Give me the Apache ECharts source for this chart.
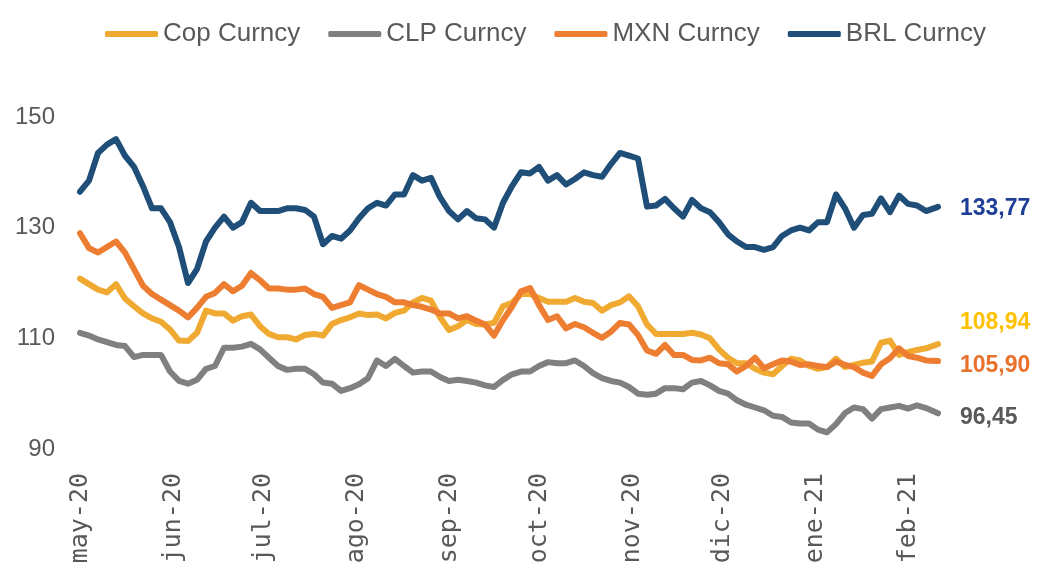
<!DOCTYPE html>
<html>
<head>
<meta charset="utf-8">
<script src="https://cdn.jsdelivr.net/npm/echarts@6/dist/echarts.min.js"></script>
<style>
html,body{margin:0;padding:0;background:#fff;}
#chart{width:1041px;height:581px;}
</style>
</head>
<body>
<div id="chart"></div>
<script>
// Sample dates (every 3 days, last = final observation)
const dates = [
'2020-05-01','2020-05-04','2020-05-07','2020-05-10','2020-05-13','2020-05-16','2020-05-19','2020-05-22','2020-05-25','2020-05-28','2020-05-31',
'2020-06-03','2020-06-06','2020-06-09','2020-06-12','2020-06-15','2020-06-18','2020-06-21','2020-06-24','2020-06-27','2020-06-30',
'2020-07-03','2020-07-06','2020-07-09','2020-07-12','2020-07-15','2020-07-18','2020-07-21','2020-07-24','2020-07-27','2020-07-30',
'2020-08-02','2020-08-05','2020-08-08','2020-08-11','2020-08-14','2020-08-17','2020-08-20','2020-08-23','2020-08-26','2020-08-29',
'2020-09-01','2020-09-04','2020-09-07','2020-09-10','2020-09-13','2020-09-16','2020-09-19','2020-09-22','2020-09-25','2020-09-28',
'2020-10-01','2020-10-04','2020-10-07','2020-10-10','2020-10-13','2020-10-16','2020-10-19','2020-10-22','2020-10-25','2020-10-28','2020-10-31',
'2020-11-03','2020-11-06','2020-11-09','2020-11-12','2020-11-15','2020-11-18','2020-11-21','2020-11-24','2020-11-27','2020-11-30',
'2020-12-03','2020-12-06','2020-12-09','2020-12-12','2020-12-15','2020-12-18','2020-12-21','2020-12-24','2020-12-27','2020-12-30',
'2021-01-02','2021-01-05','2021-01-08','2021-01-11','2021-01-14','2021-01-17','2021-01-20','2021-01-23','2021-01-26','2021-01-29',
'2021-02-01','2021-02-04','2021-02-07','2021-02-11'
];

const copCurncy = [
120.8,119.8,118.8,118.3,119.8,117.2,115.8,114.5,113.6,113,111.6,
109.6,109.5,111,115,114.5,114.5,113.2,114,114.3,112.2,
110.8,110.2,110.2,109.8,110.6,110.8,110.5,112.6,113.3,113.8,
114.5,114.2,114.3,113.6,114.6,115,116.5,117.3,116.8,113.8,
111.5,112.2,113.3,112.6,112.5,112.8,115.8,116.4,118,118,
117.3,116.6,116.6,116.6,117.3,116.6,116.4,115,116,116.5,117.6,
115.8,112.5,110.8,110.8,110.8,110.8,111,110.7,110,108,
106.5,105.5,105.5,104.5,103.8,103.5,105,106.3,106,105,
104.5,104.8,106.3,104.8,105.2,105.6,105.8,109.2,109.6,107,
107.5,107.9,108.2,108.94
];

const clpCurncy = [
111,110.5,109.8,109.3,108.8,108.6,106.6,107,107,107,104,
102.3,101.8,102.5,104.5,105,108.3,108.3,108.5,109,108,
106.5,105,104.3,104.5,104.5,103.5,102,101.8,100.5,101,
101.7,102.8,106,105,106.3,105,103.8,104,104,103,
102.3,102.5,102.3,102,101.5,101.2,102.5,103.5,104,104,
105,105.7,105.5,105.5,106,105,103.7,102.8,102.3,102,101.2,
100,99.8,100,101,101,100.8,102,102.3,101.5,100.5,
100,98.8,98,97.5,97,96,95.8,94.8,94.6,94.6,
93.5,93,94.5,96.5,97.5,97.2,95.5,97.2,97.5,97.8,
97.3,97.9,97.4,96.45
];

const mxnCurncy = [
129,126.3,125.5,126.5,127.5,125.5,122.5,119.5,118,117,116,
115,113.8,115.5,117.5,118.2,119.8,118.5,119.5,121.8,120.5,
119,119,118.8,118.8,119,118,117.5,115.5,116,116.5,
119.6,118.8,118,117.5,116.5,116.5,116,115.7,115.2,114.5,
114.5,113.6,114,113.2,112.5,110.5,113.3,115.7,118.5,119.1,
116,113.3,114,111.8,112.6,112,111,110.1,111.2,112.8,112.5,
110.6,107.8,107.2,108.8,107,107,106.1,106,106.5,105.5,
105.3,104,105,106.5,104.6,105.3,106,105.8,105.2,105.3,
105,104.8,105.8,105.2,104.8,103.8,103.2,105.3,106.4,108.2,
106.8,106.5,106,105.90
];

const brlCurncy = [
136.5,138.5,143.5,145,146,143,141,137.5,133.5,133.5,131,
126.5,120,122.5,127.5,130,132,130,131,134.5,133,
133,133,133.5,133.5,133.2,132,127,128.5,128,129.5,
131.7,133.5,134.5,134,136,136,139.5,138.5,139,135.5,
133,131.5,133,131.7,131.5,130,134.5,137.5,140,139.8,
141,138.5,139.5,137.8,138.8,140,139.5,139.2,141.5,143.5,143,
142.5,133.8,134,135.2,133.5,132,135,133.5,132.8,131,
128.8,127.5,126.5,126.5,126,126.5,128.5,129.5,130,129.5,
131,131,136,133.5,130,132.3,132.5,135.3,132.8,135.8,
134.3,134,133,133.77
];

const seriesNames = ['Cop Curncy', 'CLP Curncy', 'MXN Curncy', 'BRL Curncy'];
const monthStarts = ['2020-05-01','2020-06-01','2020-07-01','2020-08-01','2020-09-01','2020-10-01','2020-11-01','2020-12-01','2021-01-01','2021-02-01'];
const monthLabels = ['may-20','jun-20','jul-20','ago-20','sep-20','oct-20','nov-20','dic-20','ene-21','feb-21'];
const yTicks = [90, 110, 130, 150];
const xRange = ['2020-05-01', '2021-02-11'];

const lineColors = ['#F0AA32', '#808080', '#ED7D31', '#1F4E79'];
const labelColors = ['#FFC000', '#595959', '#E8712B', '#1F3F96'];
const labelOffsets = [[0, -22], [0, 4], [0, 5], [0, 2]];

const toTs = s => new Date(s + 'T00:00:00').getTime();
const monthTs = monthStarts.map(toTs);
const dateTs = dates.map(toTs);

const SANS = "'Liberation Sans', Arial, sans-serif";

const allValues = [copCurncy, clpCurncy, mxnCurncy, brlCurncy];

const chart = echarts.init(document.getElementById('chart'), null, {renderer: 'canvas'});
chart.setOption({
  animation: false,
  backgroundColor: '#ffffff',
  legend: {
    data: seriesNames,
    left: 100,
    top: 14,
    icon: 'roundRect',
    itemWidth: 53,
    itemHeight: 6,
    itemGap: 28,
    textStyle: { fontFamily: SANS, fontSize: 26, color: '#595959', lineHeight: 30 }
  },
  grid: { left: 80, right: 103, top: 117, bottom: 132, containLabel: false },
  xAxis: {
    type: 'value',
    min: toTs(xRange[0]),
    max: toTs(xRange[1]),
    axisLine: { show: false },
    axisTick: { show: false },
    splitLine: { show: false },
    axisLabel: {
      customValues: monthTs,
      rotate: 90,
      margin: 24,
      color: '#595959',
      fontFamily: "'DejaVu Sans Mono', monospace",
      fontSize: 25,
      formatter: function (val) {
        const i = monthTs.indexOf(val);
        return i >= 0 ? monthLabels[i] : '';
      }
    }
  },
  yAxis: {
    type: 'value',
    min: yTicks[0],
    max: yTicks[yTicks.length - 1],
    interval: 20,
    axisLine: { show: false },
    axisTick: { show: false },
    splitLine: { show: false },
    axisLabel: { color: '#595959', fontFamily: SANS, fontSize: 24, margin: 25 }
  },
  series: seriesNames.map((name, si) => ({
    name: name,
    type: 'line',
    symbol: 'none',
    showSymbol: false,
    color: lineColors[si],
    lineStyle: { width: 6, color: lineColors[si], cap: 'round', join: 'round' },
    data: dateTs.map((t, i) => [t, allValues[si][i]]),
    endLabel: {
      show: true,
      distance: 22,
      offset: labelOffsets[si],
      color: labelColors[si],
      fontFamily: SANS,
      fontWeight: 'bold',
      fontSize: 23,
      formatter: p => p.value[1].toFixed(2).replace('.', ',')
    }
  }))
});
</script>
</body>
</html>
